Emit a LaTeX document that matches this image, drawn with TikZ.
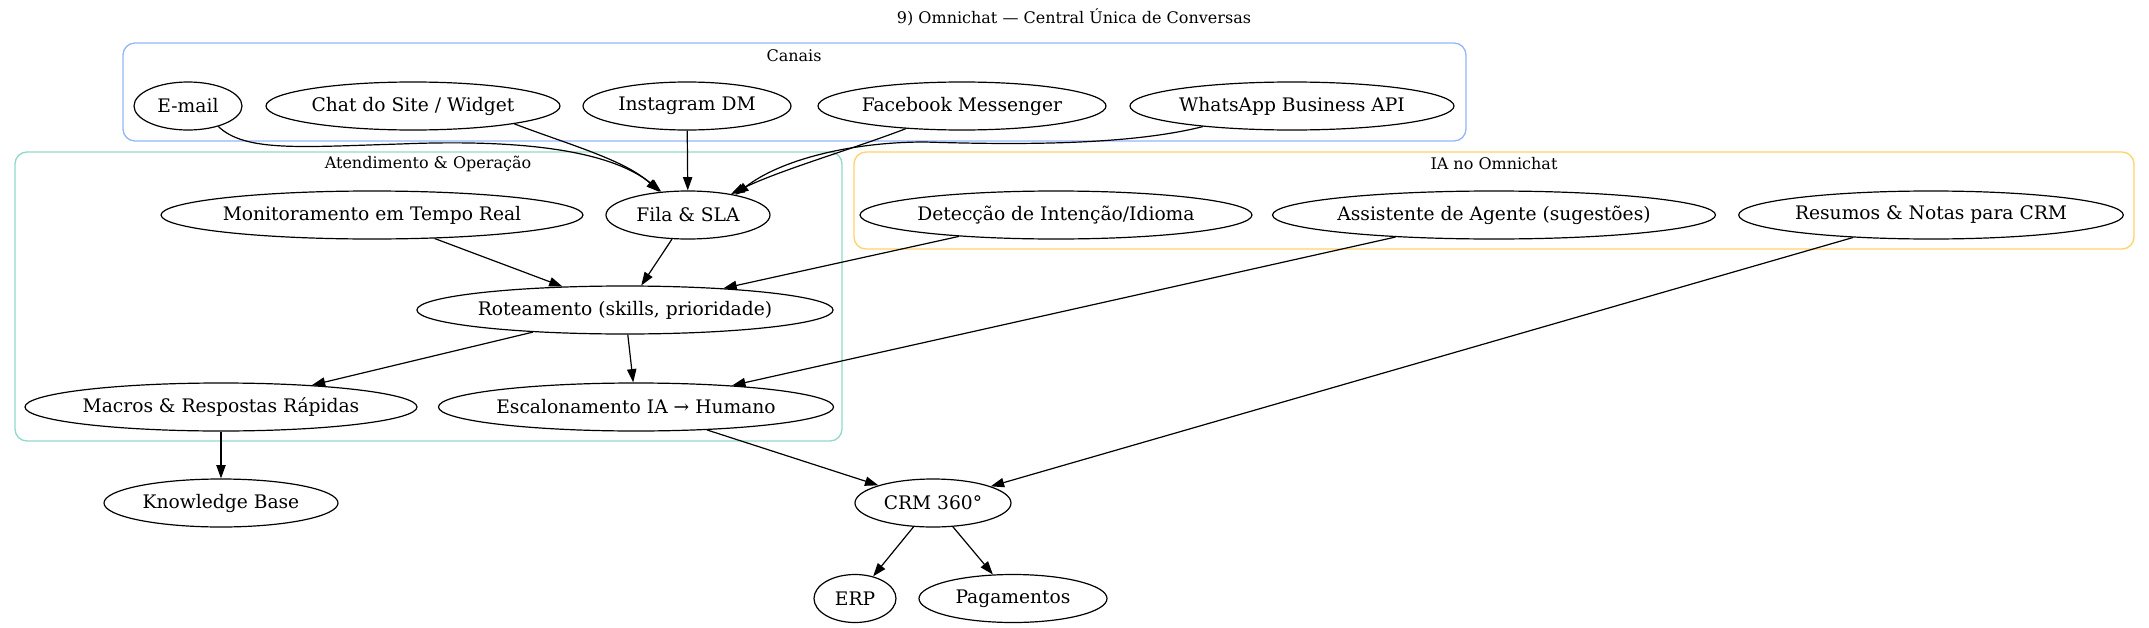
\documentclass[tikz,border=0pt]{standalone}
\usepackage{fontspec}
\setmainfont{DejaVu Serif}
\usetikzlibrary{shapes.geometric,arrows.meta}
\definecolor{cblue}{HTML}{93B5FA}
\definecolor{cteal}{HTML}{92D7C9}
\definecolor{cyellow}{HTML}{FFD36B}
\begin{document}
\begin{tikzpicture}[x=0.75pt,y=-0.75pt,
  nd/.style={draw,ellipse,line width=0.9pt,inner sep=0pt,minimum height=36pt,font=\fontsize{14}{16}\selectfont},
  w/.style={minimum width=#1*0.75pt},
  cluster/.style={line width=1pt,rounded corners=9pt},
  clabel/.style={font=\fontsize{12}{14}\selectfont,inner sep=0pt},
  edge/.style={line width=0.9pt,-{Triangle[length=10pt,width=7pt]}}]
\useasboundingbox (0,0) rectangle (2149,628);
\node[clabel] (title) at (1074,17) {9) Omnichat — Central Única de Conversas};
% clusters
\draw[cluster,cblue] (123,43) rectangle (1466,141);
\node[clabel] (lcanais) at (794,56) {Canais};
\draw[cluster,cteal] (15,152) rectangle (842,441);
\node[clabel] (lat) at (428,164) {Atendimento \& Operação};
\draw[cluster,cyellow] (854,152) rectangle (2134,249);
\node[clabel] (lia) at (1494,164) {IA no Omnichat};
% nodes row 1
\node[nd,w=108] (email) at (188,106) {E-mail};
\node[nd,w=294] (chat) at (413,106) {Chat do Site / Widget};
\node[nd,w=208] (insta) at (687,106) {Instagram DM};
\node[nd,w=288] (fb) at (962,106) {Facebook Messenger};
\node[nd,w=324] (wa) at (1292,106) {WhatsApp Business API};
% row 2
\node[nd,w=418] (mon) at (372,215) {Monitoramento em Tempo Real};
\node[nd,w=164] (fila) at (688,215) {Fila \& SLA};
\node[nd,w=384] (det) at (1056,215) {Detecção de Intenção/Idioma};
\node[nd,w=440] (assist) at (1494,215) {Assistente de Agente (sugestões)};
\node[nd,w=384] (res) at (1931,215) {Resumos \& Notas para CRM};
% row 3
\node[nd,w=414] (rot) at (625,310) {Roteamento (skills, prioridade)};
% row 4
\node[nd,w=392] (mac) at (221,407) {Macros \& Respostas Rápidas};
\node[nd,w=392] (esc) at (636,407) {Escalonamento IA → Humano};
% row 5
\node[nd,w=234] (kb) at (221,503) {Knowledge Base};
\node[nd,w=156] (crm) at (933,503) {CRM 360°};
% row 6
\node[nd,w=82] (erp) at (855,598.5) {ERP};
\node[nd,w=188] (pag) at (1013,598.5) {Pagamentos};
% edges
\draw[edge] (email.-34) .. controls (245,152) and (300,147) .. (400,144)
  .. controls (520,139) and (610,150) .. (fila.139);
\draw[edge] (chat.-10) .. controls (570,145) and (625,160) .. (fila.141);
\draw[edge] (insta) -- (fila);
\draw[edge] (fb.-158) .. controls (850,150) and (780,170) .. (fila.26);
\draw[edge] (wa.-167) .. controls (1130,145) and (1020,145) .. (925,142)
  .. controls (850,142) and (780,160) .. (fila.23);
\draw[edge] (mon) -- (rot);
\draw[edge] (fila) -- (rot);
\draw[edge] (det) -- (rot);
\draw[edge] (rot) -- (mac);
\draw[edge] (rot) -- (esc);
\draw[edge] (assist) -- (esc);
\draw[edge] (res) -- (crm);
\draw[edge] (esc) -- (crm);
\draw[edge] (mac) -- (kb);
\draw[edge] (crm) -- (erp);
\draw[edge] (crm) -- (pag);
\end{tikzpicture}
\end{document}
